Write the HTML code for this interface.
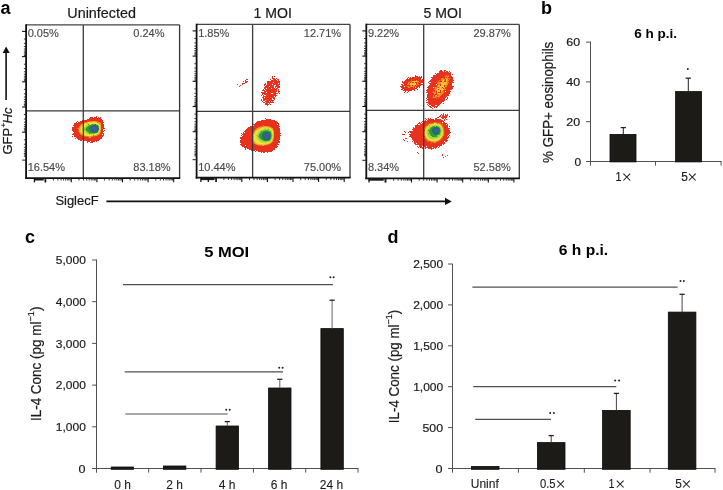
<!DOCTYPE html><html><head><meta charset="utf-8"><style>html,body{margin:0;padding:0;background:#fff;}svg{display:block;will-change:transform;}text{font-family:"Liberation Sans",sans-serif;}</style></head><body>
<svg width="723" height="490" viewBox="0 0 723 490">
<defs><filter id="bl" x="-20%" y="-20%" width="140%" height="140%"><feGaussianBlur stdDeviation="0.45" result="g"/><feTurbulence type="fractalNoise" baseFrequency="0.85" numOctaves="1" seed="3" result="n"/><feDisplacementMap in="g" in2="n" scale="2.6" xChannelSelector="R" yChannelSelector="G" result="d"/><feGaussianBlur in="d" stdDeviation="0.3"/></filter><filter id="spk" x="-30%" y="-30%" width="160%" height="160%" color-interpolation-filters="sRGB"><feGaussianBlur in="SourceAlpha" stdDeviation="1.8" result="b"/><feTurbulence type="fractalNoise" baseFrequency="0.9" numOctaves="2" seed="4" result="n"/><feColorMatrix in="n" type="matrix" values="0 0 0 0 0  0 0 0 0 0  0 0 0 0 0  1 0 0 0 0" result="na"/><feComposite in="b" in2="na" operator="arithmetic" k1="0" k2="1" k3="1.8" k4="-0.9" result="m"/><feComponentTransfer in="m" result="t0"><feFuncA type="discrete" tableValues="0 1"/></feComponentTransfer><feComponentTransfer in="b" result="bm"><feFuncA type="discrete" tableValues="0 0 0 1 1 1 1 1 1 1 1 1 1 1 1 1 1 1 1 1"/></feComponentTransfer><feComposite in="t0" in2="bm" operator="in" result="t"/><feFlood flood-color="#e6321f" result="f"/><feComposite in="f" in2="t" operator="in" result="c"/><feGaussianBlur in="c" stdDeviation="0.35"/></filter><filter id="spkS" x="-30%" y="-30%" width="160%" height="160%" color-interpolation-filters="sRGB"><feGaussianBlur in="SourceAlpha" stdDeviation="1.3" result="b"/><feTurbulence type="fractalNoise" baseFrequency="0.9" numOctaves="2" seed="7" result="n"/><feColorMatrix in="n" type="matrix" values="0 0 0 0 0  0 0 0 0 0  0 0 0 0 0  1 0 0 0 0" result="na"/><feComposite in="b" in2="na" operator="arithmetic" k1="0" k2="1" k3="1.5" k4="-0.75" result="m"/><feComponentTransfer in="m" result="t0"><feFuncA type="discrete" tableValues="0 1"/></feComponentTransfer><feComponentTransfer in="b" result="bm"><feFuncA type="discrete" tableValues="0 0 0 1 1 1 1 1 1 1 1 1 1 1 1 1 1 1 1 1"/></feComponentTransfer><feComposite in="t0" in2="bm" operator="in" result="t"/><feFlood flood-color="#e6321f" result="f"/><feComposite in="f" in2="t" operator="in" result="c"/><feGaussianBlur in="c" stdDeviation="0.35"/></filter><filter id="spkY" x="-30%" y="-30%" width="160%" height="160%" color-interpolation-filters="sRGB"><feGaussianBlur in="SourceAlpha" stdDeviation="1.0" result="b"/><feTurbulence type="fractalNoise" baseFrequency="0.75" numOctaves="2" seed="11" result="n"/><feColorMatrix in="n" type="matrix" values="0 0 0 0 0  0 0 0 0 0  0 0 0 0 0  1 0 0 0 0" result="na"/><feComposite in="b" in2="na" operator="arithmetic" k1="0" k2="1" k3="2.4" k4="-1.3" result="m"/><feComponentTransfer in="m" result="t0"><feFuncA type="discrete" tableValues="0 1"/></feComponentTransfer><feComponentTransfer in="b" result="bm"><feFuncA type="discrete" tableValues="0 0 0 1 1 1 1 1 1 1 1 1 1 1 1 1 1 1 1 1"/></feComponentTransfer><feComposite in="t0" in2="bm" operator="in" result="t"/><feComposite in="SourceGraphic" in2="t" operator="in" result="c"/><feGaussianBlur in="c" stdDeviation="0.35"/></filter></defs>
<rect width="723" height="490" fill="#fff"/>
<text x="0.60" y="13.80" font-size="18" fill="#000" font-weight="bold">a</text>
<text x="67.30" y="18.00" font-size="14.5" fill="#1a1a1a" textLength="68.60" lengthAdjust="spacingAndGlyphs" stroke="#1a1a1a" stroke-width="0.2">Uninfected</text>
<text x="253.50" y="18.10" font-size="14.5" fill="#1a1a1a" textLength="38.40" lengthAdjust="spacingAndGlyphs" stroke="#1a1a1a" stroke-width="0.2">1 MOI</text>
<text x="423.50" y="18.10" font-size="14.5" fill="#1a1a1a" textLength="38.40" lengthAdjust="spacingAndGlyphs" stroke="#1a1a1a" stroke-width="0.2">5 MOI</text>
<g filter="url(#spkS)">
<path d="M72.20,130.00 C72.28,127.67 73.03,124.50 74.50,123.00 C75.97,121.50 78.75,121.67 81.00,121.00 C83.25,120.33 85.83,119.70 88.00,119.00 C90.17,118.30 92.00,117.05 94.00,116.80 C96.00,116.55 98.37,116.47 100.00,117.50 C101.63,118.53 103.10,120.92 103.80,123.00 C104.50,125.08 104.42,127.67 104.20,130.00 C103.98,132.33 103.87,135.08 102.50,137.00 C101.13,138.92 98.42,140.63 96.00,141.50 C93.58,142.37 90.67,142.37 88.00,142.20 C85.33,142.03 82.33,141.37 80.00,140.50 C77.67,139.63 75.30,138.75 74.00,137.00 C72.70,135.25 72.12,132.33 72.20,130.00 Z" fill="#e6321f" />
</g>
<g filter="url(#bl)">
<path d="M78.50,129.00 C78.70,127.30 79.92,125.20 81.50,124.00 C83.08,122.80 85.75,122.30 88.00,121.80 C90.25,121.30 92.97,120.75 95.00,121.00 C97.03,121.25 99.20,121.97 100.20,123.30 C101.20,124.63 101.17,127.13 101.00,129.00 C100.83,130.87 100.53,133.23 99.20,134.50 C97.87,135.77 95.20,136.25 93.00,136.60 C90.80,136.95 88.12,137.00 86.00,136.60 C83.88,136.20 81.55,135.47 80.30,134.20 C79.05,132.93 78.30,130.70 78.50,129.00 Z" fill="#f2a126" />
<path d="M80.00,129.00 C80.28,127.63 81.50,125.83 83.00,124.80 C84.50,123.77 87.00,123.27 89.00,122.80 C91.00,122.33 93.25,121.72 95.00,122.00 C96.75,122.28 98.62,123.33 99.50,124.50 C100.38,125.67 100.45,127.48 100.30,129.00 C100.15,130.52 99.82,132.48 98.60,133.60 C97.38,134.72 95.10,135.35 93.00,135.70 C90.90,136.05 87.95,136.15 86.00,135.70 C84.05,135.25 82.30,134.12 81.30,133.00 C80.30,131.88 79.72,130.37 80.00,129.00 Z" fill="#ebe434" />
<path d="M83.00,129.00 C83.00,127.60 85.33,126.17 87.00,125.30 C88.67,124.43 91.17,123.88 93.00,123.80 C94.83,123.72 96.93,123.93 98.00,124.80 C99.07,125.67 99.45,127.63 99.40,129.00 C99.35,130.37 98.93,132.08 97.70,133.00 C96.47,133.92 93.78,134.38 92.00,134.50 C90.22,134.62 88.50,134.62 87.00,133.70 C85.50,132.78 83.00,130.40 83.00,129.00 Z" fill="#a6d545" />
<path d="M85.50,129.00 C85.75,127.82 87.92,125.98 89.50,125.20 C91.08,124.42 93.48,124.17 95.00,124.30 C96.52,124.43 97.98,125.05 98.60,126.00 C99.22,126.95 99.03,128.83 98.70,130.00 C98.37,131.17 97.72,132.40 96.60,133.00 C95.48,133.60 93.43,133.72 92.00,133.60 C90.57,133.48 89.08,133.07 88.00,132.30 C86.92,131.53 85.25,130.18 85.50,129.00 Z" fill="#2f9a3e" />
<path d="M89.50,129.00 C89.67,127.93 90.92,126.05 92.00,125.40 C93.08,124.75 94.95,124.75 96.00,125.10 C97.05,125.45 97.98,126.43 98.30,127.50 C98.62,128.57 98.53,130.62 97.90,131.50 C97.27,132.38 95.65,132.75 94.50,132.80 C93.35,132.85 91.83,132.43 91.00,131.80 C90.17,131.17 89.33,130.07 89.50,129.00 Z" fill="#22705c" />
<ellipse cx="94.30" cy="128.70" rx="2.60" ry="3.00" transform="rotate(0 94.30 128.70)" fill="#3f58a8" />
<ellipse cx="94.30" cy="128.20" rx="1.30" ry="1.60" transform="rotate(0 94.30 128.20)" fill="#5a55b8" />
</g>
<line x1="83.30" y1="24.90" x2="83.30" y2="178.10" stroke="#3a3a3a" stroke-width="1.3"/>
<line x1="26.10" y1="110.80" x2="179.60" y2="110.80" stroke="#3a3a3a" stroke-width="1.3"/>
<line x1="26.10" y1="24.90" x2="179.60" y2="24.90" stroke="#444" stroke-width="1.4"/>
<line x1="179.60" y1="24.90" x2="179.60" y2="178.10" stroke="#333" stroke-width="1.3"/>
<line x1="26.10" y1="24.20" x2="26.10" y2="179.00" stroke="#111" stroke-width="1.8"/>
<line x1="25.20" y1="178.10" x2="180.20" y2="178.10" stroke="#111" stroke-width="1.8"/>
<rect x="34.00" y="178.10" width="9.70" height="2.40" fill="#1a1a1a"/>
<line x1="34.40" y1="178.10" x2="34.40" y2="182.40" stroke="#111" stroke-width="1.3"/>
<line x1="45.20" y1="178.10" x2="45.20" y2="182.40" stroke="#111" stroke-width="1.3"/>
<line x1="45.70" y1="178.10" x2="45.70" y2="182.30" stroke="#111" stroke-width="1.1"/>
<line x1="53.41" y1="178.10" x2="53.41" y2="180.50" stroke="#222" stroke-width="0.9"/>
<line x1="57.91" y1="178.10" x2="57.91" y2="180.50" stroke="#222" stroke-width="0.9"/>
<line x1="61.11" y1="178.10" x2="61.11" y2="180.50" stroke="#222" stroke-width="0.9"/>
<line x1="63.59" y1="178.10" x2="63.59" y2="180.50" stroke="#222" stroke-width="0.9"/>
<line x1="65.62" y1="178.10" x2="65.62" y2="180.50" stroke="#222" stroke-width="0.9"/>
<line x1="67.33" y1="178.10" x2="67.33" y2="180.50" stroke="#222" stroke-width="0.9"/>
<line x1="68.82" y1="178.10" x2="68.82" y2="180.50" stroke="#222" stroke-width="0.9"/>
<line x1="70.13" y1="178.10" x2="70.13" y2="180.50" stroke="#222" stroke-width="0.9"/>
<line x1="71.30" y1="178.10" x2="71.30" y2="182.30" stroke="#111" stroke-width="1.1"/>
<line x1="79.01" y1="178.10" x2="79.01" y2="180.50" stroke="#222" stroke-width="0.9"/>
<line x1="83.51" y1="178.10" x2="83.51" y2="180.50" stroke="#222" stroke-width="0.9"/>
<line x1="86.71" y1="178.10" x2="86.71" y2="180.50" stroke="#222" stroke-width="0.9"/>
<line x1="89.19" y1="178.10" x2="89.19" y2="180.50" stroke="#222" stroke-width="0.9"/>
<line x1="91.22" y1="178.10" x2="91.22" y2="180.50" stroke="#222" stroke-width="0.9"/>
<line x1="92.93" y1="178.10" x2="92.93" y2="180.50" stroke="#222" stroke-width="0.9"/>
<line x1="94.42" y1="178.10" x2="94.42" y2="180.50" stroke="#222" stroke-width="0.9"/>
<line x1="95.73" y1="178.10" x2="95.73" y2="180.50" stroke="#222" stroke-width="0.9"/>
<line x1="96.90" y1="178.10" x2="96.90" y2="182.30" stroke="#111" stroke-width="1.1"/>
<line x1="104.61" y1="178.10" x2="104.61" y2="180.50" stroke="#222" stroke-width="0.9"/>
<line x1="109.11" y1="178.10" x2="109.11" y2="180.50" stroke="#222" stroke-width="0.9"/>
<line x1="112.31" y1="178.10" x2="112.31" y2="180.50" stroke="#222" stroke-width="0.9"/>
<line x1="114.79" y1="178.10" x2="114.79" y2="180.50" stroke="#222" stroke-width="0.9"/>
<line x1="116.82" y1="178.10" x2="116.82" y2="180.50" stroke="#222" stroke-width="0.9"/>
<line x1="118.53" y1="178.10" x2="118.53" y2="180.50" stroke="#222" stroke-width="0.9"/>
<line x1="120.02" y1="178.10" x2="120.02" y2="180.50" stroke="#222" stroke-width="0.9"/>
<line x1="121.33" y1="178.10" x2="121.33" y2="180.50" stroke="#222" stroke-width="0.9"/>
<line x1="122.50" y1="178.10" x2="122.50" y2="182.30" stroke="#111" stroke-width="1.1"/>
<line x1="130.21" y1="178.10" x2="130.21" y2="180.50" stroke="#222" stroke-width="0.9"/>
<line x1="134.71" y1="178.10" x2="134.71" y2="180.50" stroke="#222" stroke-width="0.9"/>
<line x1="137.91" y1="178.10" x2="137.91" y2="180.50" stroke="#222" stroke-width="0.9"/>
<line x1="140.39" y1="178.10" x2="140.39" y2="180.50" stroke="#222" stroke-width="0.9"/>
<line x1="142.42" y1="178.10" x2="142.42" y2="180.50" stroke="#222" stroke-width="0.9"/>
<line x1="144.13" y1="178.10" x2="144.13" y2="180.50" stroke="#222" stroke-width="0.9"/>
<line x1="145.62" y1="178.10" x2="145.62" y2="180.50" stroke="#222" stroke-width="0.9"/>
<line x1="146.93" y1="178.10" x2="146.93" y2="180.50" stroke="#222" stroke-width="0.9"/>
<line x1="148.10" y1="178.10" x2="148.10" y2="182.30" stroke="#111" stroke-width="1.1"/>
<line x1="155.81" y1="178.10" x2="155.81" y2="180.50" stroke="#222" stroke-width="0.9"/>
<line x1="160.31" y1="178.10" x2="160.31" y2="180.50" stroke="#222" stroke-width="0.9"/>
<line x1="163.51" y1="178.10" x2="163.51" y2="180.50" stroke="#222" stroke-width="0.9"/>
<line x1="165.99" y1="178.10" x2="165.99" y2="180.50" stroke="#222" stroke-width="0.9"/>
<line x1="168.02" y1="178.10" x2="168.02" y2="180.50" stroke="#222" stroke-width="0.9"/>
<line x1="169.73" y1="178.10" x2="169.73" y2="180.50" stroke="#222" stroke-width="0.9"/>
<line x1="171.22" y1="178.10" x2="171.22" y2="180.50" stroke="#222" stroke-width="0.9"/>
<line x1="172.53" y1="178.10" x2="172.53" y2="180.50" stroke="#222" stroke-width="0.9"/>
<line x1="173.70" y1="178.10" x2="173.70" y2="182.30" stroke="#111" stroke-width="1.1"/>
<line x1="22.10" y1="31.40" x2="26.10" y2="31.40" stroke="#111" stroke-width="1.1"/>
<line x1="23.90" y1="38.99" x2="26.10" y2="38.99" stroke="#222" stroke-width="0.9"/>
<line x1="23.90" y1="43.42" x2="26.10" y2="43.42" stroke="#222" stroke-width="0.9"/>
<line x1="23.90" y1="46.57" x2="26.10" y2="46.57" stroke="#222" stroke-width="0.9"/>
<line x1="23.90" y1="49.01" x2="26.10" y2="49.01" stroke="#222" stroke-width="0.9"/>
<line x1="23.90" y1="51.01" x2="26.10" y2="51.01" stroke="#222" stroke-width="0.9"/>
<line x1="23.90" y1="52.70" x2="26.10" y2="52.70" stroke="#222" stroke-width="0.9"/>
<line x1="23.90" y1="54.16" x2="26.10" y2="54.16" stroke="#222" stroke-width="0.9"/>
<line x1="23.90" y1="55.45" x2="26.10" y2="55.45" stroke="#222" stroke-width="0.9"/>
<line x1="22.10" y1="56.60" x2="26.10" y2="56.60" stroke="#111" stroke-width="1.1"/>
<line x1="23.90" y1="64.19" x2="26.10" y2="64.19" stroke="#222" stroke-width="0.9"/>
<line x1="23.90" y1="68.62" x2="26.10" y2="68.62" stroke="#222" stroke-width="0.9"/>
<line x1="23.90" y1="71.77" x2="26.10" y2="71.77" stroke="#222" stroke-width="0.9"/>
<line x1="23.90" y1="74.21" x2="26.10" y2="74.21" stroke="#222" stroke-width="0.9"/>
<line x1="23.90" y1="76.21" x2="26.10" y2="76.21" stroke="#222" stroke-width="0.9"/>
<line x1="23.90" y1="77.90" x2="26.10" y2="77.90" stroke="#222" stroke-width="0.9"/>
<line x1="23.90" y1="79.36" x2="26.10" y2="79.36" stroke="#222" stroke-width="0.9"/>
<line x1="23.90" y1="80.65" x2="26.10" y2="80.65" stroke="#222" stroke-width="0.9"/>
<line x1="22.10" y1="81.80" x2="26.10" y2="81.80" stroke="#111" stroke-width="1.1"/>
<line x1="23.90" y1="89.39" x2="26.10" y2="89.39" stroke="#222" stroke-width="0.9"/>
<line x1="23.90" y1="93.82" x2="26.10" y2="93.82" stroke="#222" stroke-width="0.9"/>
<line x1="23.90" y1="96.97" x2="26.10" y2="96.97" stroke="#222" stroke-width="0.9"/>
<line x1="23.90" y1="99.41" x2="26.10" y2="99.41" stroke="#222" stroke-width="0.9"/>
<line x1="23.90" y1="101.41" x2="26.10" y2="101.41" stroke="#222" stroke-width="0.9"/>
<line x1="23.90" y1="103.10" x2="26.10" y2="103.10" stroke="#222" stroke-width="0.9"/>
<line x1="23.90" y1="104.56" x2="26.10" y2="104.56" stroke="#222" stroke-width="0.9"/>
<line x1="23.90" y1="105.85" x2="26.10" y2="105.85" stroke="#222" stroke-width="0.9"/>
<line x1="22.10" y1="107.00" x2="26.10" y2="107.00" stroke="#111" stroke-width="1.1"/>
<line x1="23.90" y1="114.59" x2="26.10" y2="114.59" stroke="#222" stroke-width="0.9"/>
<line x1="23.90" y1="119.02" x2="26.10" y2="119.02" stroke="#222" stroke-width="0.9"/>
<line x1="23.90" y1="122.17" x2="26.10" y2="122.17" stroke="#222" stroke-width="0.9"/>
<line x1="23.90" y1="124.61" x2="26.10" y2="124.61" stroke="#222" stroke-width="0.9"/>
<line x1="23.90" y1="126.61" x2="26.10" y2="126.61" stroke="#222" stroke-width="0.9"/>
<line x1="23.90" y1="128.30" x2="26.10" y2="128.30" stroke="#222" stroke-width="0.9"/>
<line x1="23.90" y1="129.76" x2="26.10" y2="129.76" stroke="#222" stroke-width="0.9"/>
<line x1="23.90" y1="131.05" x2="26.10" y2="131.05" stroke="#222" stroke-width="0.9"/>
<line x1="22.10" y1="132.20" x2="26.10" y2="132.20" stroke="#111" stroke-width="1.1"/>
<line x1="23.90" y1="139.79" x2="26.10" y2="139.79" stroke="#222" stroke-width="0.9"/>
<line x1="23.90" y1="144.22" x2="26.10" y2="144.22" stroke="#222" stroke-width="0.9"/>
<line x1="23.90" y1="147.37" x2="26.10" y2="147.37" stroke="#222" stroke-width="0.9"/>
<line x1="23.90" y1="149.81" x2="26.10" y2="149.81" stroke="#222" stroke-width="0.9"/>
<line x1="23.90" y1="151.81" x2="26.10" y2="151.81" stroke="#222" stroke-width="0.9"/>
<line x1="23.90" y1="153.50" x2="26.10" y2="153.50" stroke="#222" stroke-width="0.9"/>
<line x1="23.90" y1="154.96" x2="26.10" y2="154.96" stroke="#222" stroke-width="0.9"/>
<line x1="23.90" y1="156.25" x2="26.10" y2="156.25" stroke="#222" stroke-width="0.9"/>
<line x1="22.10" y1="160.10" x2="26.10" y2="160.10" stroke="#222" stroke-width="1.0"/>
<text x="27.70" y="37.00" font-size="11" fill="#4a4a4a" stroke="#4a4a4a" stroke-width="0.15">0.05%</text>
<text x="133.30" y="37.00" font-size="11" fill="#4a4a4a" stroke="#4a4a4a" stroke-width="0.15">0.24%</text>
<text x="27.70" y="171.00" font-size="11" fill="#4a4a4a" stroke="#4a4a4a" stroke-width="0.15">16.54%</text>
<text x="133.30" y="171.00" font-size="11" fill="#4a4a4a" stroke="#4a4a4a" stroke-width="0.15">83.18%</text>
<g filter="url(#spk)">
<ellipse cx="271.00" cy="91.00" rx="8.00" ry="15.00" transform="rotate(22 271.00 91.00)" fill="#e6321f" fill-opacity="0.8"/>
<ellipse cx="238.80" cy="86.50" rx="1.50" ry="1.40" transform="rotate(0 238.80 86.50)" fill="#e6321f" />
<ellipse cx="242.00" cy="84.30" rx="1.50" ry="1.40" transform="rotate(0 242.00 84.30)" fill="#e6321f" />
<ellipse cx="245.00" cy="82.20" rx="1.50" ry="1.40" transform="rotate(0 245.00 82.20)" fill="#e6321f" />
<ellipse cx="247.60" cy="80.20" rx="1.50" ry="1.40" transform="rotate(0 247.60 80.20)" fill="#e6321f" />
</g>
<g filter="url(#spkS)">
<path d="M240.00,141.00 C239.92,138.83 241.33,136.08 242.50,134.00 C243.67,131.92 245.25,129.92 247.00,128.50 C248.75,127.08 251.33,126.67 253.00,125.50 C254.67,124.33 255.17,122.45 257.00,121.50 C258.83,120.55 261.50,120.12 264.00,119.80 C266.50,119.48 269.75,119.23 272.00,119.60 C274.25,119.97 276.17,120.27 277.50,122.00 C278.83,123.73 279.62,127.00 280.00,130.00 C280.38,133.00 280.38,137.00 279.80,140.00 C279.22,143.00 278.30,145.95 276.50,148.00 C274.70,150.05 271.75,151.60 269.00,152.30 C266.25,153.00 263.17,152.58 260.00,152.20 C256.83,151.82 252.83,150.87 250.00,150.00 C247.17,149.13 244.67,148.50 243.00,147.00 C241.33,145.50 240.08,143.17 240.00,141.00 Z" fill="#e6321f" />
</g>
<g filter="url(#bl)">
<path d="M252.00,137.00 C252.28,134.95 253.50,131.73 255.00,130.00 C256.50,128.27 258.83,127.22 261.00,126.60 C263.17,125.98 265.97,125.90 268.00,126.30 C270.03,126.70 272.20,127.38 273.20,129.00 C274.20,130.62 274.17,133.80 274.00,136.00 C273.83,138.20 273.53,140.67 272.20,142.20 C270.87,143.73 268.37,144.70 266.00,145.20 C263.63,145.70 260.12,145.68 258.00,145.20 C255.88,144.72 254.30,143.67 253.30,142.30 C252.30,140.93 251.72,139.05 252.00,137.00 Z" fill="#f2a126" />
<path d="M253.30,137.00 C253.63,135.28 254.85,132.55 256.30,131.00 C257.75,129.45 260.05,128.28 262.00,127.70 C263.95,127.12 266.25,127.12 268.00,127.50 C269.75,127.88 271.63,128.58 272.50,130.00 C273.37,131.42 273.37,134.08 273.20,136.00 C273.03,137.92 272.70,140.13 271.50,141.50 C270.30,142.87 268.17,143.75 266.00,144.20 C263.83,144.65 260.45,144.68 258.50,144.20 C256.55,143.72 255.17,142.50 254.30,141.30 C253.43,140.10 252.97,138.72 253.30,137.00 Z" fill="#ebe434" />
<path d="M256.50,136.00 C256.58,134.58 257.75,132.67 259.00,131.50 C260.25,130.33 262.33,129.37 264.00,129.00 C265.67,128.63 267.67,128.80 269.00,129.30 C270.33,129.80 271.47,130.55 272.00,132.00 C272.53,133.45 272.67,136.33 272.20,138.00 C271.73,139.67 270.73,141.22 269.20,142.00 C267.67,142.78 264.78,143.03 263.00,142.70 C261.22,142.37 259.58,141.12 258.50,140.00 C257.42,138.88 256.42,137.42 256.50,136.00 Z" fill="#a6d545" />
<path d="M258.50,136.00 C258.50,134.70 260.33,132.95 261.50,132.00 C262.67,131.05 264.08,130.47 265.50,130.30 C266.92,130.13 268.98,130.22 270.00,131.00 C271.02,131.78 271.53,133.57 271.60,135.00 C271.67,136.43 271.33,138.55 270.40,139.60 C269.47,140.65 267.48,141.27 266.00,141.30 C264.52,141.33 262.75,140.68 261.50,139.80 C260.25,138.92 258.50,137.30 258.50,136.00 Z" fill="#2f9a3e" />
<path d="M262.00,136.00 C262.08,134.85 263.08,133.20 264.00,132.50 C264.92,131.80 266.45,131.55 267.50,131.80 C268.55,132.05 269.87,132.88 270.30,134.00 C270.73,135.12 270.65,137.42 270.10,138.50 C269.55,139.58 268.10,140.35 267.00,140.50 C265.90,140.65 264.33,140.15 263.50,139.40 C262.67,138.65 261.92,137.15 262.00,136.00 Z" fill="#22705c" />
<ellipse cx="266.60" cy="136.10" rx="2.60" ry="2.80" transform="rotate(0 266.60 136.10)" fill="#3f58a8" />
<ellipse cx="266.60" cy="136.00" rx="1.20" ry="1.40" transform="rotate(0 266.60 136.00)" fill="#4c5cb4" />
</g>
<line x1="252.60" y1="24.40" x2="252.60" y2="177.70" stroke="#3a3a3a" stroke-width="1.3"/>
<line x1="196.60" y1="111.40" x2="350.00" y2="111.40" stroke="#3a3a3a" stroke-width="1.3"/>
<line x1="196.60" y1="24.40" x2="350.00" y2="24.40" stroke="#444" stroke-width="1.4"/>
<line x1="350.00" y1="24.40" x2="350.00" y2="177.70" stroke="#333" stroke-width="1.3"/>
<line x1="196.60" y1="23.70" x2="196.60" y2="178.60" stroke="#111" stroke-width="1.8"/>
<line x1="195.70" y1="177.70" x2="350.60" y2="177.70" stroke="#111" stroke-width="1.8"/>
<rect x="200.90" y="177.70" width="13.60" height="2.40" fill="#1a1a1a"/>
<line x1="200.90" y1="177.70" x2="200.90" y2="182.00" stroke="#111" stroke-width="1.3"/>
<line x1="208.30" y1="177.70" x2="208.30" y2="182.00" stroke="#111" stroke-width="1.3"/>
<line x1="216.00" y1="177.70" x2="216.00" y2="182.00" stroke="#111" stroke-width="1.3"/>
<line x1="216.20" y1="177.70" x2="216.20" y2="181.90" stroke="#111" stroke-width="1.1"/>
<line x1="223.91" y1="177.70" x2="223.91" y2="180.10" stroke="#222" stroke-width="0.9"/>
<line x1="228.41" y1="177.70" x2="228.41" y2="180.10" stroke="#222" stroke-width="0.9"/>
<line x1="231.61" y1="177.70" x2="231.61" y2="180.10" stroke="#222" stroke-width="0.9"/>
<line x1="234.09" y1="177.70" x2="234.09" y2="180.10" stroke="#222" stroke-width="0.9"/>
<line x1="236.12" y1="177.70" x2="236.12" y2="180.10" stroke="#222" stroke-width="0.9"/>
<line x1="237.83" y1="177.70" x2="237.83" y2="180.10" stroke="#222" stroke-width="0.9"/>
<line x1="239.32" y1="177.70" x2="239.32" y2="180.10" stroke="#222" stroke-width="0.9"/>
<line x1="240.63" y1="177.70" x2="240.63" y2="180.10" stroke="#222" stroke-width="0.9"/>
<line x1="241.80" y1="177.70" x2="241.80" y2="181.90" stroke="#111" stroke-width="1.1"/>
<line x1="249.51" y1="177.70" x2="249.51" y2="180.10" stroke="#222" stroke-width="0.9"/>
<line x1="254.01" y1="177.70" x2="254.01" y2="180.10" stroke="#222" stroke-width="0.9"/>
<line x1="257.21" y1="177.70" x2="257.21" y2="180.10" stroke="#222" stroke-width="0.9"/>
<line x1="259.69" y1="177.70" x2="259.69" y2="180.10" stroke="#222" stroke-width="0.9"/>
<line x1="261.72" y1="177.70" x2="261.72" y2="180.10" stroke="#222" stroke-width="0.9"/>
<line x1="263.43" y1="177.70" x2="263.43" y2="180.10" stroke="#222" stroke-width="0.9"/>
<line x1="264.92" y1="177.70" x2="264.92" y2="180.10" stroke="#222" stroke-width="0.9"/>
<line x1="266.23" y1="177.70" x2="266.23" y2="180.10" stroke="#222" stroke-width="0.9"/>
<line x1="267.40" y1="177.70" x2="267.40" y2="181.90" stroke="#111" stroke-width="1.1"/>
<line x1="275.11" y1="177.70" x2="275.11" y2="180.10" stroke="#222" stroke-width="0.9"/>
<line x1="279.61" y1="177.70" x2="279.61" y2="180.10" stroke="#222" stroke-width="0.9"/>
<line x1="282.81" y1="177.70" x2="282.81" y2="180.10" stroke="#222" stroke-width="0.9"/>
<line x1="285.29" y1="177.70" x2="285.29" y2="180.10" stroke="#222" stroke-width="0.9"/>
<line x1="287.32" y1="177.70" x2="287.32" y2="180.10" stroke="#222" stroke-width="0.9"/>
<line x1="289.03" y1="177.70" x2="289.03" y2="180.10" stroke="#222" stroke-width="0.9"/>
<line x1="290.52" y1="177.70" x2="290.52" y2="180.10" stroke="#222" stroke-width="0.9"/>
<line x1="291.83" y1="177.70" x2="291.83" y2="180.10" stroke="#222" stroke-width="0.9"/>
<line x1="293.00" y1="177.70" x2="293.00" y2="181.90" stroke="#111" stroke-width="1.1"/>
<line x1="300.71" y1="177.70" x2="300.71" y2="180.10" stroke="#222" stroke-width="0.9"/>
<line x1="305.21" y1="177.70" x2="305.21" y2="180.10" stroke="#222" stroke-width="0.9"/>
<line x1="308.41" y1="177.70" x2="308.41" y2="180.10" stroke="#222" stroke-width="0.9"/>
<line x1="310.89" y1="177.70" x2="310.89" y2="180.10" stroke="#222" stroke-width="0.9"/>
<line x1="312.92" y1="177.70" x2="312.92" y2="180.10" stroke="#222" stroke-width="0.9"/>
<line x1="314.63" y1="177.70" x2="314.63" y2="180.10" stroke="#222" stroke-width="0.9"/>
<line x1="316.12" y1="177.70" x2="316.12" y2="180.10" stroke="#222" stroke-width="0.9"/>
<line x1="317.43" y1="177.70" x2="317.43" y2="180.10" stroke="#222" stroke-width="0.9"/>
<line x1="318.60" y1="177.70" x2="318.60" y2="181.90" stroke="#111" stroke-width="1.1"/>
<line x1="326.31" y1="177.70" x2="326.31" y2="180.10" stroke="#222" stroke-width="0.9"/>
<line x1="330.81" y1="177.70" x2="330.81" y2="180.10" stroke="#222" stroke-width="0.9"/>
<line x1="334.01" y1="177.70" x2="334.01" y2="180.10" stroke="#222" stroke-width="0.9"/>
<line x1="336.49" y1="177.70" x2="336.49" y2="180.10" stroke="#222" stroke-width="0.9"/>
<line x1="338.52" y1="177.70" x2="338.52" y2="180.10" stroke="#222" stroke-width="0.9"/>
<line x1="340.23" y1="177.70" x2="340.23" y2="180.10" stroke="#222" stroke-width="0.9"/>
<line x1="341.72" y1="177.70" x2="341.72" y2="180.10" stroke="#222" stroke-width="0.9"/>
<line x1="343.03" y1="177.70" x2="343.03" y2="180.10" stroke="#222" stroke-width="0.9"/>
<line x1="344.20" y1="177.70" x2="344.20" y2="181.90" stroke="#111" stroke-width="1.1"/>
<line x1="192.60" y1="30.90" x2="196.60" y2="30.90" stroke="#111" stroke-width="1.1"/>
<line x1="194.40" y1="38.49" x2="196.60" y2="38.49" stroke="#222" stroke-width="0.9"/>
<line x1="194.40" y1="42.92" x2="196.60" y2="42.92" stroke="#222" stroke-width="0.9"/>
<line x1="194.40" y1="46.07" x2="196.60" y2="46.07" stroke="#222" stroke-width="0.9"/>
<line x1="194.40" y1="48.51" x2="196.60" y2="48.51" stroke="#222" stroke-width="0.9"/>
<line x1="194.40" y1="50.51" x2="196.60" y2="50.51" stroke="#222" stroke-width="0.9"/>
<line x1="194.40" y1="52.20" x2="196.60" y2="52.20" stroke="#222" stroke-width="0.9"/>
<line x1="194.40" y1="53.66" x2="196.60" y2="53.66" stroke="#222" stroke-width="0.9"/>
<line x1="194.40" y1="54.95" x2="196.60" y2="54.95" stroke="#222" stroke-width="0.9"/>
<line x1="192.60" y1="56.10" x2="196.60" y2="56.10" stroke="#111" stroke-width="1.1"/>
<line x1="194.40" y1="63.69" x2="196.60" y2="63.69" stroke="#222" stroke-width="0.9"/>
<line x1="194.40" y1="68.12" x2="196.60" y2="68.12" stroke="#222" stroke-width="0.9"/>
<line x1="194.40" y1="71.27" x2="196.60" y2="71.27" stroke="#222" stroke-width="0.9"/>
<line x1="194.40" y1="73.71" x2="196.60" y2="73.71" stroke="#222" stroke-width="0.9"/>
<line x1="194.40" y1="75.71" x2="196.60" y2="75.71" stroke="#222" stroke-width="0.9"/>
<line x1="194.40" y1="77.40" x2="196.60" y2="77.40" stroke="#222" stroke-width="0.9"/>
<line x1="194.40" y1="78.86" x2="196.60" y2="78.86" stroke="#222" stroke-width="0.9"/>
<line x1="194.40" y1="80.15" x2="196.60" y2="80.15" stroke="#222" stroke-width="0.9"/>
<line x1="192.60" y1="81.30" x2="196.60" y2="81.30" stroke="#111" stroke-width="1.1"/>
<line x1="194.40" y1="88.89" x2="196.60" y2="88.89" stroke="#222" stroke-width="0.9"/>
<line x1="194.40" y1="93.32" x2="196.60" y2="93.32" stroke="#222" stroke-width="0.9"/>
<line x1="194.40" y1="96.47" x2="196.60" y2="96.47" stroke="#222" stroke-width="0.9"/>
<line x1="194.40" y1="98.91" x2="196.60" y2="98.91" stroke="#222" stroke-width="0.9"/>
<line x1="194.40" y1="100.91" x2="196.60" y2="100.91" stroke="#222" stroke-width="0.9"/>
<line x1="194.40" y1="102.60" x2="196.60" y2="102.60" stroke="#222" stroke-width="0.9"/>
<line x1="194.40" y1="104.06" x2="196.60" y2="104.06" stroke="#222" stroke-width="0.9"/>
<line x1="194.40" y1="105.35" x2="196.60" y2="105.35" stroke="#222" stroke-width="0.9"/>
<line x1="192.60" y1="106.50" x2="196.60" y2="106.50" stroke="#111" stroke-width="1.1"/>
<line x1="194.40" y1="114.09" x2="196.60" y2="114.09" stroke="#222" stroke-width="0.9"/>
<line x1="194.40" y1="118.52" x2="196.60" y2="118.52" stroke="#222" stroke-width="0.9"/>
<line x1="194.40" y1="121.67" x2="196.60" y2="121.67" stroke="#222" stroke-width="0.9"/>
<line x1="194.40" y1="124.11" x2="196.60" y2="124.11" stroke="#222" stroke-width="0.9"/>
<line x1="194.40" y1="126.11" x2="196.60" y2="126.11" stroke="#222" stroke-width="0.9"/>
<line x1="194.40" y1="127.80" x2="196.60" y2="127.80" stroke="#222" stroke-width="0.9"/>
<line x1="194.40" y1="129.26" x2="196.60" y2="129.26" stroke="#222" stroke-width="0.9"/>
<line x1="194.40" y1="130.55" x2="196.60" y2="130.55" stroke="#222" stroke-width="0.9"/>
<line x1="192.60" y1="131.70" x2="196.60" y2="131.70" stroke="#111" stroke-width="1.1"/>
<line x1="194.40" y1="139.29" x2="196.60" y2="139.29" stroke="#222" stroke-width="0.9"/>
<line x1="194.40" y1="143.72" x2="196.60" y2="143.72" stroke="#222" stroke-width="0.9"/>
<line x1="194.40" y1="146.87" x2="196.60" y2="146.87" stroke="#222" stroke-width="0.9"/>
<line x1="194.40" y1="149.31" x2="196.60" y2="149.31" stroke="#222" stroke-width="0.9"/>
<line x1="194.40" y1="151.31" x2="196.60" y2="151.31" stroke="#222" stroke-width="0.9"/>
<line x1="194.40" y1="153.00" x2="196.60" y2="153.00" stroke="#222" stroke-width="0.9"/>
<line x1="194.40" y1="154.46" x2="196.60" y2="154.46" stroke="#222" stroke-width="0.9"/>
<line x1="194.40" y1="155.75" x2="196.60" y2="155.75" stroke="#222" stroke-width="0.9"/>
<line x1="192.60" y1="159.70" x2="196.60" y2="159.70" stroke="#222" stroke-width="1.0"/>
<text x="198.20" y="37.00" font-size="11" fill="#4a4a4a" stroke="#4a4a4a" stroke-width="0.15">1.85%</text>
<text x="303.80" y="37.00" font-size="11" fill="#4a4a4a" stroke="#4a4a4a" stroke-width="0.15">12.71%</text>
<text x="198.20" y="171.00" font-size="11" fill="#4a4a4a" stroke="#4a4a4a" stroke-width="0.15">10.44%</text>
<text x="303.80" y="171.00" font-size="11" fill="#4a4a4a" stroke="#4a4a4a" stroke-width="0.15">75.00%</text>
<g filter="url(#spk)">
<ellipse cx="412.00" cy="84.00" rx="12.00" ry="6.80" transform="rotate(-22 412.00 84.00)" fill="#e6321f" />
<path d="M428.00,104.00 C427.42,102.17 426.50,99.00 426.50,96.00 C426.50,93.00 426.92,89.33 428.00,86.00 C429.08,82.67 431.00,78.58 433.00,76.00 C435.00,73.42 437.67,71.42 440.00,70.50 C442.33,69.58 444.92,69.58 447.00,70.50 C449.08,71.42 451.50,73.58 452.50,76.00 C453.50,78.42 453.58,81.83 453.00,85.00 C452.42,88.17 450.83,92.00 449.00,95.00 C447.17,98.00 444.33,100.92 442.00,103.00 C439.67,105.08 437.00,106.83 435.00,107.50 C433.00,108.17 431.17,107.58 430.00,107.00 C428.83,106.42 428.58,105.83 428.00,104.00 Z" fill="#e6321f" />
<ellipse cx="444.20" cy="116.20" rx="4.80" ry="2.60" transform="rotate(-12 444.20 116.20)" fill="#e6321f" />
</g>
<g filter="url(#spkY)">
<ellipse cx="413.00" cy="83.80" rx="7.50" ry="3.80" transform="rotate(-22 413.00 83.80)" fill="#f29a24" fill-opacity="0.85"/>
<ellipse cx="441.00" cy="87.00" rx="5.50" ry="14.00" transform="rotate(32 441.00 87.00)" fill="#f29a24" fill-opacity="0.85"/>
</g>
<g filter="url(#spkY)">
<ellipse cx="413.50" cy="83.60" rx="4.50" ry="2.20" transform="rotate(-22 413.50 83.60)" fill="#f3d22c" fill-opacity="0.85"/>
<ellipse cx="441.50" cy="87.00" rx="3.20" ry="10.00" transform="rotate(32 441.50 87.00)" fill="#f3d22c" fill-opacity="0.85"/>
</g>
<g filter="url(#spk)">
<path d="M409.50,134.00 C409.83,132.08 411.75,129.92 413.50,128.00 C415.25,126.08 417.58,124.00 420.00,122.50 C422.42,121.00 425.33,119.72 428.00,119.00 C430.67,118.28 433.50,118.00 436.00,118.20 C438.50,118.40 440.92,118.90 443.00,120.20 C445.08,121.50 447.42,123.87 448.50,126.00 C449.58,128.13 449.67,130.67 449.50,133.00 C449.33,135.33 448.92,137.75 447.50,140.00 C446.08,142.25 443.58,145.00 441.00,146.50 C438.42,148.00 435.00,148.67 432.00,149.00 C429.00,149.33 425.75,149.25 423.00,148.50 C420.25,147.75 417.42,146.00 415.50,144.50 C413.58,143.00 412.50,141.25 411.50,139.50 C410.50,137.75 409.17,135.92 409.50,134.00 Z" fill="#e6321f" />
<ellipse cx="405.00" cy="138.00" rx="1.50" ry="1.50" transform="rotate(0 405.00 138.00)" fill="#e6321f" />
<ellipse cx="406.50" cy="141.00" rx="1.50" ry="1.50" transform="rotate(0 406.50 141.00)" fill="#e6321f" />
<ellipse cx="444.00" cy="155.00" rx="1.50" ry="1.50" transform="rotate(0 444.00 155.00)" fill="#e6321f" />
<ellipse cx="447.00" cy="157.00" rx="1.50" ry="1.50" transform="rotate(0 447.00 157.00)" fill="#e6321f" />
<ellipse cx="418.00" cy="152.00" rx="1.50" ry="1.50" transform="rotate(0 418.00 152.00)" fill="#e6321f" />
<ellipse cx="422.00" cy="145.50" rx="1.50" ry="1.50" transform="rotate(0 422.00 145.50)" fill="#e6321f" />
<ellipse cx="404.00" cy="133.00" rx="1.50" ry="1.50" transform="rotate(0 404.00 133.00)" fill="#e6321f" />
</g>
<g filter="url(#bl)">
<path d="M423.50,132.00 C423.67,129.83 424.42,127.07 426.00,125.50 C427.58,123.93 430.58,122.98 433.00,122.60 C435.42,122.22 438.67,122.13 440.50,123.20 C442.33,124.27 443.50,126.78 444.00,129.00 C444.50,131.22 444.50,134.37 443.50,136.50 C442.50,138.63 440.25,140.85 438.00,141.80 C435.75,142.75 432.17,142.75 430.00,142.20 C427.83,141.65 426.08,140.20 425.00,138.50 C423.92,136.80 423.33,134.17 423.50,132.00 Z" fill="#ef7a22" />
<path d="M424.80,132.00 C425.00,130.15 425.78,127.87 427.20,126.50 C428.62,125.13 431.17,124.15 433.30,123.80 C435.43,123.45 438.38,123.48 440.00,124.40 C441.62,125.32 442.58,127.37 443.00,129.30 C443.42,131.23 443.43,134.08 442.50,136.00 C441.57,137.92 439.43,139.97 437.40,140.80 C435.37,141.63 432.20,141.53 430.30,141.00 C428.40,140.47 426.92,139.10 426.00,137.60 C425.08,136.10 424.60,133.85 424.80,132.00 Z" fill="#ebe434" />
<path d="M426.50,131.50 C426.73,130.00 427.75,128.08 429.00,127.00 C430.25,125.92 432.28,125.20 434.00,125.00 C435.72,124.80 438.00,124.97 439.30,125.80 C440.60,126.63 441.52,128.42 441.80,130.00 C442.08,131.58 441.87,133.80 441.00,135.30 C440.13,136.80 438.27,138.38 436.60,139.00 C434.93,139.62 432.50,139.50 431.00,139.00 C429.50,138.50 428.35,137.25 427.60,136.00 C426.85,134.75 426.27,133.00 426.50,131.50 Z" fill="#a6d545" />
<path d="M429.00,131.50 C428.92,129.98 430.00,128.38 431.00,127.50 C432.00,126.62 433.63,126.25 435.00,126.20 C436.37,126.15 438.27,126.48 439.20,127.20 C440.13,127.92 440.53,129.30 440.60,130.50 C440.67,131.70 440.37,133.33 439.60,134.40 C438.83,135.47 437.35,136.53 436.00,136.90 C434.65,137.27 432.67,137.50 431.50,136.60 C430.33,135.70 429.08,133.02 429.00,131.50 Z" fill="#2f9a3e" />
<path d="M431.80,130.80 C431.67,129.68 432.70,128.42 433.50,127.80 C434.30,127.18 435.63,126.95 436.60,127.10 C437.57,127.25 438.82,127.92 439.30,128.70 C439.78,129.48 439.78,130.88 439.50,131.80 C439.22,132.72 438.47,133.75 437.60,134.20 C436.73,134.65 435.27,135.07 434.30,134.50 C433.33,133.93 431.93,131.92 431.80,130.80 Z" fill="#22705c" />
<ellipse cx="435.80" cy="130.40" rx="2.40" ry="2.40" transform="rotate(0 435.80 130.40)" fill="#3f58a8" />
<ellipse cx="435.80" cy="130.20" rx="1.10" ry="1.10" transform="rotate(0 435.80 130.20)" fill="#4c5cb4" />
</g>
<line x1="423.70" y1="24.40" x2="423.70" y2="178.30" stroke="#3a3a3a" stroke-width="1.3"/>
<line x1="366.30" y1="110.40" x2="519.30" y2="110.40" stroke="#3a3a3a" stroke-width="1.3"/>
<line x1="366.30" y1="24.40" x2="519.30" y2="24.40" stroke="#444" stroke-width="1.4"/>
<line x1="519.30" y1="24.40" x2="519.30" y2="178.30" stroke="#333" stroke-width="1.3"/>
<line x1="366.30" y1="23.70" x2="366.30" y2="179.20" stroke="#111" stroke-width="1.8"/>
<line x1="365.40" y1="178.30" x2="519.90" y2="178.30" stroke="#111" stroke-width="1.8"/>
<rect x="368.60" y="178.30" width="15.10" height="2.40" fill="#1a1a1a"/>
<line x1="369.00" y1="178.30" x2="369.00" y2="182.60" stroke="#111" stroke-width="1.3"/>
<line x1="385.20" y1="178.30" x2="385.20" y2="182.60" stroke="#111" stroke-width="1.3"/>
<line x1="385.90" y1="178.30" x2="385.90" y2="182.50" stroke="#111" stroke-width="1.1"/>
<line x1="393.61" y1="178.30" x2="393.61" y2="180.70" stroke="#222" stroke-width="0.9"/>
<line x1="398.11" y1="178.30" x2="398.11" y2="180.70" stroke="#222" stroke-width="0.9"/>
<line x1="401.31" y1="178.30" x2="401.31" y2="180.70" stroke="#222" stroke-width="0.9"/>
<line x1="403.79" y1="178.30" x2="403.79" y2="180.70" stroke="#222" stroke-width="0.9"/>
<line x1="405.82" y1="178.30" x2="405.82" y2="180.70" stroke="#222" stroke-width="0.9"/>
<line x1="407.53" y1="178.30" x2="407.53" y2="180.70" stroke="#222" stroke-width="0.9"/>
<line x1="409.02" y1="178.30" x2="409.02" y2="180.70" stroke="#222" stroke-width="0.9"/>
<line x1="410.33" y1="178.30" x2="410.33" y2="180.70" stroke="#222" stroke-width="0.9"/>
<line x1="411.50" y1="178.30" x2="411.50" y2="182.50" stroke="#111" stroke-width="1.1"/>
<line x1="419.21" y1="178.30" x2="419.21" y2="180.70" stroke="#222" stroke-width="0.9"/>
<line x1="423.71" y1="178.30" x2="423.71" y2="180.70" stroke="#222" stroke-width="0.9"/>
<line x1="426.91" y1="178.30" x2="426.91" y2="180.70" stroke="#222" stroke-width="0.9"/>
<line x1="429.39" y1="178.30" x2="429.39" y2="180.70" stroke="#222" stroke-width="0.9"/>
<line x1="431.42" y1="178.30" x2="431.42" y2="180.70" stroke="#222" stroke-width="0.9"/>
<line x1="433.13" y1="178.30" x2="433.13" y2="180.70" stroke="#222" stroke-width="0.9"/>
<line x1="434.62" y1="178.30" x2="434.62" y2="180.70" stroke="#222" stroke-width="0.9"/>
<line x1="435.93" y1="178.30" x2="435.93" y2="180.70" stroke="#222" stroke-width="0.9"/>
<line x1="437.10" y1="178.30" x2="437.10" y2="182.50" stroke="#111" stroke-width="1.1"/>
<line x1="444.81" y1="178.30" x2="444.81" y2="180.70" stroke="#222" stroke-width="0.9"/>
<line x1="449.31" y1="178.30" x2="449.31" y2="180.70" stroke="#222" stroke-width="0.9"/>
<line x1="452.51" y1="178.30" x2="452.51" y2="180.70" stroke="#222" stroke-width="0.9"/>
<line x1="454.99" y1="178.30" x2="454.99" y2="180.70" stroke="#222" stroke-width="0.9"/>
<line x1="457.02" y1="178.30" x2="457.02" y2="180.70" stroke="#222" stroke-width="0.9"/>
<line x1="458.73" y1="178.30" x2="458.73" y2="180.70" stroke="#222" stroke-width="0.9"/>
<line x1="460.22" y1="178.30" x2="460.22" y2="180.70" stroke="#222" stroke-width="0.9"/>
<line x1="461.53" y1="178.30" x2="461.53" y2="180.70" stroke="#222" stroke-width="0.9"/>
<line x1="462.70" y1="178.30" x2="462.70" y2="182.50" stroke="#111" stroke-width="1.1"/>
<line x1="470.41" y1="178.30" x2="470.41" y2="180.70" stroke="#222" stroke-width="0.9"/>
<line x1="474.91" y1="178.30" x2="474.91" y2="180.70" stroke="#222" stroke-width="0.9"/>
<line x1="478.11" y1="178.30" x2="478.11" y2="180.70" stroke="#222" stroke-width="0.9"/>
<line x1="480.59" y1="178.30" x2="480.59" y2="180.70" stroke="#222" stroke-width="0.9"/>
<line x1="482.62" y1="178.30" x2="482.62" y2="180.70" stroke="#222" stroke-width="0.9"/>
<line x1="484.33" y1="178.30" x2="484.33" y2="180.70" stroke="#222" stroke-width="0.9"/>
<line x1="485.82" y1="178.30" x2="485.82" y2="180.70" stroke="#222" stroke-width="0.9"/>
<line x1="487.13" y1="178.30" x2="487.13" y2="180.70" stroke="#222" stroke-width="0.9"/>
<line x1="488.30" y1="178.30" x2="488.30" y2="182.50" stroke="#111" stroke-width="1.1"/>
<line x1="496.01" y1="178.30" x2="496.01" y2="180.70" stroke="#222" stroke-width="0.9"/>
<line x1="500.51" y1="178.30" x2="500.51" y2="180.70" stroke="#222" stroke-width="0.9"/>
<line x1="503.71" y1="178.30" x2="503.71" y2="180.70" stroke="#222" stroke-width="0.9"/>
<line x1="506.19" y1="178.30" x2="506.19" y2="180.70" stroke="#222" stroke-width="0.9"/>
<line x1="508.22" y1="178.30" x2="508.22" y2="180.70" stroke="#222" stroke-width="0.9"/>
<line x1="509.93" y1="178.30" x2="509.93" y2="180.70" stroke="#222" stroke-width="0.9"/>
<line x1="511.42" y1="178.30" x2="511.42" y2="180.70" stroke="#222" stroke-width="0.9"/>
<line x1="512.73" y1="178.30" x2="512.73" y2="180.70" stroke="#222" stroke-width="0.9"/>
<line x1="513.90" y1="178.30" x2="513.90" y2="182.50" stroke="#111" stroke-width="1.1"/>
<line x1="362.30" y1="30.90" x2="366.30" y2="30.90" stroke="#111" stroke-width="1.1"/>
<line x1="364.10" y1="38.49" x2="366.30" y2="38.49" stroke="#222" stroke-width="0.9"/>
<line x1="364.10" y1="42.92" x2="366.30" y2="42.92" stroke="#222" stroke-width="0.9"/>
<line x1="364.10" y1="46.07" x2="366.30" y2="46.07" stroke="#222" stroke-width="0.9"/>
<line x1="364.10" y1="48.51" x2="366.30" y2="48.51" stroke="#222" stroke-width="0.9"/>
<line x1="364.10" y1="50.51" x2="366.30" y2="50.51" stroke="#222" stroke-width="0.9"/>
<line x1="364.10" y1="52.20" x2="366.30" y2="52.20" stroke="#222" stroke-width="0.9"/>
<line x1="364.10" y1="53.66" x2="366.30" y2="53.66" stroke="#222" stroke-width="0.9"/>
<line x1="364.10" y1="54.95" x2="366.30" y2="54.95" stroke="#222" stroke-width="0.9"/>
<line x1="362.30" y1="56.10" x2="366.30" y2="56.10" stroke="#111" stroke-width="1.1"/>
<line x1="364.10" y1="63.69" x2="366.30" y2="63.69" stroke="#222" stroke-width="0.9"/>
<line x1="364.10" y1="68.12" x2="366.30" y2="68.12" stroke="#222" stroke-width="0.9"/>
<line x1="364.10" y1="71.27" x2="366.30" y2="71.27" stroke="#222" stroke-width="0.9"/>
<line x1="364.10" y1="73.71" x2="366.30" y2="73.71" stroke="#222" stroke-width="0.9"/>
<line x1="364.10" y1="75.71" x2="366.30" y2="75.71" stroke="#222" stroke-width="0.9"/>
<line x1="364.10" y1="77.40" x2="366.30" y2="77.40" stroke="#222" stroke-width="0.9"/>
<line x1="364.10" y1="78.86" x2="366.30" y2="78.86" stroke="#222" stroke-width="0.9"/>
<line x1="364.10" y1="80.15" x2="366.30" y2="80.15" stroke="#222" stroke-width="0.9"/>
<line x1="362.30" y1="81.30" x2="366.30" y2="81.30" stroke="#111" stroke-width="1.1"/>
<line x1="364.10" y1="88.89" x2="366.30" y2="88.89" stroke="#222" stroke-width="0.9"/>
<line x1="364.10" y1="93.32" x2="366.30" y2="93.32" stroke="#222" stroke-width="0.9"/>
<line x1="364.10" y1="96.47" x2="366.30" y2="96.47" stroke="#222" stroke-width="0.9"/>
<line x1="364.10" y1="98.91" x2="366.30" y2="98.91" stroke="#222" stroke-width="0.9"/>
<line x1="364.10" y1="100.91" x2="366.30" y2="100.91" stroke="#222" stroke-width="0.9"/>
<line x1="364.10" y1="102.60" x2="366.30" y2="102.60" stroke="#222" stroke-width="0.9"/>
<line x1="364.10" y1="104.06" x2="366.30" y2="104.06" stroke="#222" stroke-width="0.9"/>
<line x1="364.10" y1="105.35" x2="366.30" y2="105.35" stroke="#222" stroke-width="0.9"/>
<line x1="362.30" y1="106.50" x2="366.30" y2="106.50" stroke="#111" stroke-width="1.1"/>
<line x1="364.10" y1="114.09" x2="366.30" y2="114.09" stroke="#222" stroke-width="0.9"/>
<line x1="364.10" y1="118.52" x2="366.30" y2="118.52" stroke="#222" stroke-width="0.9"/>
<line x1="364.10" y1="121.67" x2="366.30" y2="121.67" stroke="#222" stroke-width="0.9"/>
<line x1="364.10" y1="124.11" x2="366.30" y2="124.11" stroke="#222" stroke-width="0.9"/>
<line x1="364.10" y1="126.11" x2="366.30" y2="126.11" stroke="#222" stroke-width="0.9"/>
<line x1="364.10" y1="127.80" x2="366.30" y2="127.80" stroke="#222" stroke-width="0.9"/>
<line x1="364.10" y1="129.26" x2="366.30" y2="129.26" stroke="#222" stroke-width="0.9"/>
<line x1="364.10" y1="130.55" x2="366.30" y2="130.55" stroke="#222" stroke-width="0.9"/>
<line x1="362.30" y1="131.70" x2="366.30" y2="131.70" stroke="#111" stroke-width="1.1"/>
<line x1="364.10" y1="139.29" x2="366.30" y2="139.29" stroke="#222" stroke-width="0.9"/>
<line x1="364.10" y1="143.72" x2="366.30" y2="143.72" stroke="#222" stroke-width="0.9"/>
<line x1="364.10" y1="146.87" x2="366.30" y2="146.87" stroke="#222" stroke-width="0.9"/>
<line x1="364.10" y1="149.31" x2="366.30" y2="149.31" stroke="#222" stroke-width="0.9"/>
<line x1="364.10" y1="151.31" x2="366.30" y2="151.31" stroke="#222" stroke-width="0.9"/>
<line x1="364.10" y1="153.00" x2="366.30" y2="153.00" stroke="#222" stroke-width="0.9"/>
<line x1="364.10" y1="154.46" x2="366.30" y2="154.46" stroke="#222" stroke-width="0.9"/>
<line x1="364.10" y1="155.75" x2="366.30" y2="155.75" stroke="#222" stroke-width="0.9"/>
<line x1="362.30" y1="160.30" x2="366.30" y2="160.30" stroke="#222" stroke-width="1.0"/>
<text x="367.90" y="37.00" font-size="11" fill="#4a4a4a" stroke="#4a4a4a" stroke-width="0.15">9.22%</text>
<text x="473.50" y="37.00" font-size="11" fill="#4a4a4a" stroke="#4a4a4a" stroke-width="0.15">29.87%</text>
<text x="367.90" y="171.00" font-size="11" fill="#4a4a4a" stroke="#4a4a4a" stroke-width="0.15">8.34%</text>
<text x="473.50" y="171.00" font-size="11" fill="#4a4a4a" stroke="#4a4a4a" stroke-width="0.15">52.58%</text>
<line x1="6.10" y1="100.00" x2="6.10" y2="52.00" stroke="#111" stroke-width="1.6"/>
<path d="M2.7,53 L6.1,46.5 L9.7,53 Z" fill="#111"/>
<text transform="translate(11.6,154.5) rotate(-90)" font-size="13" fill="#1a1a1a" stroke="#1a1a1a" stroke-width="0.2">GFP<tspan font-size="8" dy="-5.2" dx="0.3">+</tspan><tspan font-style="italic" dy="5.2" dx="-0.6">Hc</tspan></text>
<text x="55.40" y="204.90" font-size="13.5" fill="#1a1a1a" textLength="43.20" lengthAdjust="spacingAndGlyphs" stroke="#1a1a1a" stroke-width="0.2">SiglecF</text>
<line x1="106.40" y1="201.40" x2="446.00" y2="201.40" stroke="#111" stroke-width="1.6"/>
<path d="M445,197.8 L451.8,201.4 L445,205 Z" fill="#111"/>
<text x="541.00" y="13.80" font-size="18" fill="#000" font-weight="bold">b</text>
<text x="634.20" y="38.40" font-size="13" fill="#000" font-weight="bold" textLength="42.80" lengthAdjust="spacingAndGlyphs">6 h p.i.</text>
<line x1="590.50" y1="41.60" x2="590.50" y2="165.60" stroke="#505050" stroke-width="1.0"/>
<line x1="590.00" y1="161.50" x2="721.60" y2="161.50" stroke="#505050" stroke-width="1.0"/>
<line x1="586.00" y1="42.10" x2="590.50" y2="42.10" stroke="#505050" stroke-width="1.0"/>
<text x="566.30" y="46.30" font-size="11.5" fill="#1a1a1a" textLength="13.90" lengthAdjust="spacingAndGlyphs" stroke="#1a1a1a" stroke-width="0.2">60</text>
<line x1="586.00" y1="81.90" x2="590.50" y2="81.90" stroke="#505050" stroke-width="1.0"/>
<text x="566.30" y="86.10" font-size="11.5" fill="#1a1a1a" textLength="13.90" lengthAdjust="spacingAndGlyphs" stroke="#1a1a1a" stroke-width="0.2">40</text>
<line x1="586.00" y1="121.70" x2="590.50" y2="121.70" stroke="#505050" stroke-width="1.0"/>
<text x="566.30" y="125.90" font-size="11.5" fill="#1a1a1a" textLength="13.90" lengthAdjust="spacingAndGlyphs" stroke="#1a1a1a" stroke-width="0.2">20</text>
<line x1="586.00" y1="161.50" x2="590.50" y2="161.50" stroke="#505050" stroke-width="1.0"/>
<text x="574.50" y="165.70" font-size="11.5" fill="#1a1a1a" textLength="6.60" lengthAdjust="spacingAndGlyphs" stroke="#1a1a1a" stroke-width="0.2">0</text>
<line x1="655.50" y1="161.50" x2="655.50" y2="165.60" stroke="#505050" stroke-width="1.0"/>
<line x1="721.10" y1="161.50" x2="721.10" y2="165.60" stroke="#505050" stroke-width="1.0"/>
<rect x="610.00" y="134.40" width="26.00" height="27.50" fill="#1d1b18" stroke="#0c0b0a" stroke-width="0.8"/>
<line x1="623.30" y1="134.40" x2="623.30" y2="127.60" stroke="#222" stroke-width="1.0"/>
<line x1="620.70" y1="127.60" x2="625.90" y2="127.60" stroke="#222" stroke-width="1.3"/>
<rect x="675.60" y="91.60" width="26.00" height="70.30" fill="#1d1b18" stroke="#0c0b0a" stroke-width="0.8"/>
<line x1="688.30" y1="91.60" x2="688.30" y2="78.20" stroke="#222" stroke-width="1.0"/>
<line x1="685.70" y1="78.20" x2="690.90" y2="78.20" stroke="#222" stroke-width="1.3"/>
<circle cx="687.8" cy="69.0" r="1.0" fill="#222"/>
<text x="615.60" y="180.80" font-size="12" fill="#1a1a1a" textLength="6.00" lengthAdjust="spacingAndGlyphs" stroke="#1a1a1a" stroke-width="0.2">1</text>
<path d="M623.40,173.70 L630.20,180.50 M630.20,173.70 L623.40,180.50" stroke="#1a1a1a" stroke-width="1.05" fill="none"/>
<text x="681.30" y="180.80" font-size="12" fill="#1a1a1a" textLength="6.60" lengthAdjust="spacingAndGlyphs" stroke="#1a1a1a" stroke-width="0.2">5</text>
<path d="M688.90,173.70 L695.70,180.50 M695.70,173.70 L688.90,180.50" stroke="#1a1a1a" stroke-width="1.05" fill="none"/>
<text transform="translate(553.4,162.9) rotate(-90)" font-size="14.3" fill="#1a1a1a" stroke="#1a1a1a" stroke-width="0.2" textLength="121.2" lengthAdjust="spacingAndGlyphs">% GFP+ eosinophils</text>
<text x="25.00" y="242.90" font-size="18" fill="#000" font-weight="bold">c</text>
<text x="204.20" y="256.90" font-size="14.5" fill="#000" font-weight="bold" textLength="45.00" lengthAdjust="spacingAndGlyphs">5 MOI</text>
<line x1="96.50" y1="259.50" x2="96.50" y2="472.70" stroke="#505050" stroke-width="1.0"/>
<line x1="92.00" y1="468.50" x2="358.50" y2="468.50" stroke="#505050" stroke-width="1.0"/>
<line x1="92.20" y1="468.50" x2="96.50" y2="468.50" stroke="#505050" stroke-width="1.0"/>
<text x="78.60" y="472.70" font-size="11.5" fill="#1a1a1a" textLength="7.00" lengthAdjust="spacingAndGlyphs" stroke="#1a1a1a" stroke-width="0.2">0</text>
<line x1="92.20" y1="426.80" x2="96.50" y2="426.80" stroke="#505050" stroke-width="1.0"/>
<text x="55.80" y="431.00" font-size="11.5" fill="#1a1a1a" textLength="30.00" lengthAdjust="spacingAndGlyphs" stroke="#1a1a1a" stroke-width="0.2">1,000</text>
<line x1="92.20" y1="385.10" x2="96.50" y2="385.10" stroke="#505050" stroke-width="1.0"/>
<text x="55.80" y="389.30" font-size="11.5" fill="#1a1a1a" textLength="30.00" lengthAdjust="spacingAndGlyphs" stroke="#1a1a1a" stroke-width="0.2">2,000</text>
<line x1="92.20" y1="343.40" x2="96.50" y2="343.40" stroke="#505050" stroke-width="1.0"/>
<text x="55.80" y="347.60" font-size="11.5" fill="#1a1a1a" textLength="30.00" lengthAdjust="spacingAndGlyphs" stroke="#1a1a1a" stroke-width="0.2">3,000</text>
<line x1="92.20" y1="301.70" x2="96.50" y2="301.70" stroke="#505050" stroke-width="1.0"/>
<text x="55.80" y="305.90" font-size="11.5" fill="#1a1a1a" textLength="30.00" lengthAdjust="spacingAndGlyphs" stroke="#1a1a1a" stroke-width="0.2">4,000</text>
<line x1="92.20" y1="260.00" x2="96.50" y2="260.00" stroke="#505050" stroke-width="1.0"/>
<text x="55.80" y="264.20" font-size="11.5" fill="#1a1a1a" textLength="30.00" lengthAdjust="spacingAndGlyphs" stroke="#1a1a1a" stroke-width="0.2">5,000</text>
<line x1="148.70" y1="468.50" x2="148.70" y2="472.60" stroke="#505050" stroke-width="1.0"/>
<line x1="201.00" y1="468.50" x2="201.00" y2="472.60" stroke="#505050" stroke-width="1.0"/>
<line x1="253.40" y1="468.50" x2="253.40" y2="472.60" stroke="#505050" stroke-width="1.0"/>
<line x1="305.70" y1="468.50" x2="305.70" y2="472.60" stroke="#505050" stroke-width="1.0"/>
<line x1="358.00" y1="468.50" x2="358.00" y2="472.60" stroke="#505050" stroke-width="1.0"/>
<rect x="111.20" y="467.00" width="22.40" height="2.30" fill="#1d1b18" stroke="#0c0b0a" stroke-width="0.8"/>
<rect x="163.50" y="466.00" width="22.40" height="3.30" fill="#1d1b18" stroke="#0c0b0a" stroke-width="0.8"/>
<rect x="216.10" y="426.00" width="22.40" height="43.30" fill="#1d1b18" stroke="#0c0b0a" stroke-width="0.8"/>
<line x1="227.30" y1="426.00" x2="227.30" y2="421.60" stroke="#666" stroke-width="1.0"/>
<line x1="224.70" y1="421.60" x2="229.90" y2="421.60" stroke="#222" stroke-width="1.3"/>
<rect x="268.60" y="388.00" width="22.40" height="81.30" fill="#1d1b18" stroke="#0c0b0a" stroke-width="0.8"/>
<line x1="279.80" y1="388.00" x2="279.80" y2="379.30" stroke="#666" stroke-width="1.0"/>
<line x1="277.20" y1="379.30" x2="282.40" y2="379.30" stroke="#222" stroke-width="1.3"/>
<rect x="320.90" y="328.60" width="22.40" height="140.70" fill="#1d1b18" stroke="#0c0b0a" stroke-width="0.8"/>
<line x1="332.10" y1="328.60" x2="332.10" y2="300.20" stroke="#666" stroke-width="1.0"/>
<line x1="329.50" y1="300.20" x2="334.70" y2="300.20" stroke="#222" stroke-width="1.3"/>
<line x1="125.30" y1="414.00" x2="227.70" y2="414.00" stroke="#505050" stroke-width="1.2"/>
<circle cx="226.20" cy="409.70" r="1.0" fill="#222"/><circle cx="229.70" cy="409.70" r="1.0" fill="#222"/>
<line x1="124.70" y1="371.90" x2="283.20" y2="371.90" stroke="#505050" stroke-width="1.2"/>
<circle cx="279.20" cy="367.70" r="1.0" fill="#222"/><circle cx="282.60" cy="367.70" r="1.0" fill="#222"/>
<line x1="123.00" y1="284.60" x2="332.90" y2="284.60" stroke="#505050" stroke-width="1.2"/>
<circle cx="330.40" cy="277.30" r="1.0" fill="#222"/><circle cx="333.60" cy="277.30" r="1.0" fill="#222"/>
<text x="122.50" y="488.50" font-size="12" fill="#1a1a1a" text-anchor="middle" stroke="#1a1a1a" stroke-width="0.1">0 h</text>
<text x="174.70" y="488.50" font-size="12" fill="#1a1a1a" text-anchor="middle" stroke="#1a1a1a" stroke-width="0.1">2 h</text>
<text x="227.20" y="488.50" font-size="12" fill="#1a1a1a" text-anchor="middle" stroke="#1a1a1a" stroke-width="0.1">4 h</text>
<text x="279.20" y="488.50" font-size="12" fill="#1a1a1a" text-anchor="middle" stroke="#1a1a1a" stroke-width="0.1">6 h</text>
<text x="331.50" y="488.50" font-size="12" fill="#1a1a1a" text-anchor="middle" stroke="#1a1a1a" stroke-width="0.1">24 h</text>
<text transform="translate(40.8,421.1) rotate(-90)" font-size="13.8" fill="#1a1a1a" stroke="#1a1a1a" stroke-width="0.2" textLength="114.5" lengthAdjust="spacingAndGlyphs">IL-4 Conc (pg ml<tspan font-size="9.3" dy="-6.8">−1</tspan><tspan dy="6.8">)</tspan></text>
<text x="387.50" y="242.60" font-size="18" fill="#000" font-weight="bold">d</text>
<text x="558.80" y="255.00" font-size="14.5" fill="#000" font-weight="bold" textLength="49.40" lengthAdjust="spacingAndGlyphs">6 h p.i.</text>
<line x1="452.50" y1="263.80" x2="452.50" y2="472.70" stroke="#505050" stroke-width="1.0"/>
<line x1="448.00" y1="468.50" x2="715.50" y2="468.50" stroke="#505050" stroke-width="1.0"/>
<line x1="448.00" y1="468.50" x2="452.50" y2="468.50" stroke="#505050" stroke-width="1.0"/>
<text x="435.50" y="472.70" font-size="11.5" fill="#1a1a1a" textLength="7.00" lengthAdjust="spacingAndGlyphs" stroke="#1a1a1a" stroke-width="0.2">0</text>
<line x1="448.00" y1="427.60" x2="452.50" y2="427.60" stroke="#505050" stroke-width="1.0"/>
<text x="422.50" y="431.80" font-size="11.5" fill="#1a1a1a" textLength="20.50" lengthAdjust="spacingAndGlyphs" stroke="#1a1a1a" stroke-width="0.2">500</text>
<line x1="448.00" y1="386.70" x2="452.50" y2="386.70" stroke="#505050" stroke-width="1.0"/>
<text x="413.20" y="390.90" font-size="11.5" fill="#1a1a1a" textLength="30.00" lengthAdjust="spacingAndGlyphs" stroke="#1a1a1a" stroke-width="0.2">1,000</text>
<line x1="448.00" y1="345.80" x2="452.50" y2="345.80" stroke="#505050" stroke-width="1.0"/>
<text x="413.20" y="350.00" font-size="11.5" fill="#1a1a1a" textLength="30.00" lengthAdjust="spacingAndGlyphs" stroke="#1a1a1a" stroke-width="0.2">1,500</text>
<line x1="448.00" y1="304.90" x2="452.50" y2="304.90" stroke="#505050" stroke-width="1.0"/>
<text x="413.20" y="309.10" font-size="11.5" fill="#1a1a1a" textLength="30.00" lengthAdjust="spacingAndGlyphs" stroke="#1a1a1a" stroke-width="0.2">2,000</text>
<line x1="448.00" y1="264.00" x2="452.50" y2="264.00" stroke="#505050" stroke-width="1.0"/>
<text x="413.20" y="268.20" font-size="11.5" fill="#1a1a1a" textLength="30.00" lengthAdjust="spacingAndGlyphs" stroke="#1a1a1a" stroke-width="0.2">2,500</text>
<line x1="518.40" y1="468.50" x2="518.40" y2="472.70" stroke="#505050" stroke-width="1.0"/>
<line x1="584.30" y1="468.50" x2="584.30" y2="472.70" stroke="#505050" stroke-width="1.0"/>
<line x1="650.00" y1="468.50" x2="650.00" y2="472.70" stroke="#505050" stroke-width="1.0"/>
<line x1="715.00" y1="468.50" x2="715.00" y2="472.70" stroke="#505050" stroke-width="1.0"/>
<rect x="471.40" y="466.50" width="27.60" height="2.80" fill="#1d1b18" stroke="#0c0b0a" stroke-width="0.8"/>
<rect x="537.40" y="442.60" width="27.60" height="26.70" fill="#1d1b18" stroke="#0c0b0a" stroke-width="0.8"/>
<line x1="551.20" y1="442.60" x2="551.20" y2="435.60" stroke="#444" stroke-width="1.0"/>
<line x1="548.60" y1="435.60" x2="553.80" y2="435.60" stroke="#222" stroke-width="1.3"/>
<rect x="602.60" y="410.40" width="27.60" height="58.90" fill="#1d1b18" stroke="#0c0b0a" stroke-width="0.8"/>
<line x1="616.40" y1="410.40" x2="616.40" y2="393.40" stroke="#444" stroke-width="1.0"/>
<line x1="613.80" y1="393.40" x2="619.00" y2="393.40" stroke="#222" stroke-width="1.3"/>
<rect x="668.30" y="312.10" width="27.60" height="157.20" fill="#1d1b18" stroke="#0c0b0a" stroke-width="0.8"/>
<line x1="682.10" y1="312.10" x2="682.10" y2="294.30" stroke="#444" stroke-width="1.0"/>
<line x1="679.50" y1="294.30" x2="684.70" y2="294.30" stroke="#222" stroke-width="1.3"/>
<line x1="475.20" y1="419.30" x2="551.00" y2="419.30" stroke="#505050" stroke-width="1.2"/>
<circle cx="550.20" cy="412.90" r="1.0" fill="#222"/><circle cx="553.90" cy="412.90" r="1.0" fill="#222"/>
<line x1="473.20" y1="386.60" x2="616.30" y2="386.60" stroke="#505050" stroke-width="1.2"/>
<circle cx="615.20" cy="380.60" r="1.0" fill="#222"/><circle cx="619.10" cy="380.60" r="1.0" fill="#222"/>
<line x1="472.40" y1="287.10" x2="677.60" y2="287.10" stroke="#505050" stroke-width="1.2"/>
<circle cx="680.50" cy="280.90" r="1.0" fill="#222"/><circle cx="683.90" cy="280.90" r="1.0" fill="#222"/>
<text x="484.80" y="487.60" font-size="12" fill="#1a1a1a" text-anchor="middle" stroke="#1a1a1a" stroke-width="0.1">Uninf</text>
<text x="540.00" y="487.80" font-size="12" fill="#1a1a1a" textLength="15.60" lengthAdjust="spacingAndGlyphs" stroke="#1a1a1a" stroke-width="0.1">0.5</text>
<path d="M557.20,480.70 L564.00,487.50 M564.00,480.70 L557.20,487.50" stroke="#1a1a1a" stroke-width="1.05" fill="none"/>
<text x="608.40" y="487.80" font-size="12" fill="#1a1a1a" textLength="6.00" lengthAdjust="spacingAndGlyphs" stroke="#1a1a1a" stroke-width="0.1">1</text>
<path d="M616.80,480.70 L623.60,487.50 M623.60,480.70 L616.80,487.50" stroke="#1a1a1a" stroke-width="1.05" fill="none"/>
<text x="675.20" y="487.80" font-size="12" fill="#1a1a1a" textLength="6.60" lengthAdjust="spacingAndGlyphs" stroke="#1a1a1a" stroke-width="0.1">5</text>
<path d="M683.00,480.70 L689.80,487.50 M689.80,480.70 L683.00,487.50" stroke="#1a1a1a" stroke-width="1.05" fill="none"/>
<text transform="translate(398.9,423.2) rotate(-90)" font-size="13.8" fill="#1a1a1a" stroke="#1a1a1a" stroke-width="0.2" textLength="113.5" lengthAdjust="spacingAndGlyphs">IL-4 Conc (pg ml<tspan font-size="9.3" dy="-6.8">−1</tspan><tspan dy="6.8">)</tspan></text>
</svg></body></html>
